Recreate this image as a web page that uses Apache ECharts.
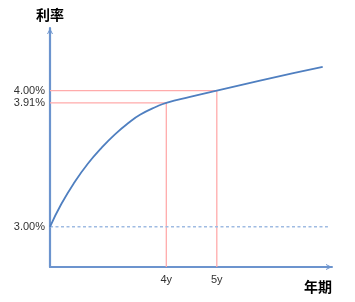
<!DOCTYPE html>
<html>
<head>
<meta charset="utf-8">
<script src="https://cdn.jsdelivr.net/npm/echarts@6/dist/echarts.min.js"></script>
<style>
html,body{margin:0;padding:0;background:#fff;}
#chart{width:355px;height:302px;}
</style>
</head>
<body>
<div id="chart"></div>
<script>
// Yield curve (years, rate %)
var curveYears = [1.697, 1.921, 2.186, 2.449, 2.713, 2.978, 3.242, 3.479, 3.81, 4, 4.47, 5, 5.855, 6.515, 7.097];
var curveRates = [3.00, 3.167, 3.329, 3.465, 3.578, 3.677, 3.760, 3.822, 3.883, 3.91, 3.954, 4.00, 4.072, 4.127, 4.173];
// Highlighted maturities and their rates
var markYears = [4, 5];
var markRates = [3.91, 4.00];
// Base rate (dashed)
var baseRate = 3.00;
// Tick labels
var xTickValues = [4, 5];
var xTickLabels = ['4y', '5y'];
var yTickValues = [3.00, 3.91, 4.00];
var yTickLabels = ['3.00%', '3.91%', '4.00%'];

var X_MIN = 1.697, X_MAX = 7.281, Y_MIN = 2.705, Y_MAX = 4.459;
var axisBlue = '#6C94CE';
var chevron = 'path://M0,10 L5,0 L10,10 L8.3,10 L5,3.4 L1.7,10 Z';

var series = [];
// red guide lines
markYears.forEach(function (yr, i) {
  series.push({
    type: 'line', silent: true, symbol: 'none', z: 2,
    lineStyle: { color: '#FFABAB', width: 1.3 },
    data: [[X_MIN, markRates[i]], [yr, markRates[i]], [yr, Y_MIN]]
  });
});
// dashed base line
series.push({
  type: 'line', silent: true, symbol: 'none', z: 2,
  lineStyle: { color: '#9FBBE2', width: 1.6, type: [3, 2.5] },
  data: [[X_MIN, baseRate], [7.2, baseRate]]
});
// curve
series.push({
  type: 'line', silent: true, symbol: 'none', smooth: 0.5, z: 3,
  lineStyle: { color: '#4F7FC0', width: 1.8 },
  data: curveYears.map(function (x, i) { return [x, curveRates[i]]; })
});

var chart = echarts.init(document.getElementById('chart'), null, { renderer: 'canvas' });
chart.setOption({
  animation: false,
  backgroundColor: '#ffffff',
  grid: { left: 50, right: 23, top: 28, bottom: 35, containLabel: false },
  xAxis: {
    type: 'value', min: X_MIN, max: X_MAX,
    name: '年期', nameLocation: 'end', nameGap: 0,
    nameTextStyle: { fontFamily: 'Noto Sans CJK SC', fontSize: 14, fontWeight: 'bold', color: '#000',
      align: 'right', verticalAlign: 'top', padding: [13, 0, 0, 0] },
    axisLine: { show: true, onZero: false, symbol: ['none', chevron], symbolSize: [8, 6], symbolOffset: [0, -3],
      lineStyle: { color: axisBlue, width: 2 } },
    axisTick: { show: false },
    splitLine: { show: false },
    axisLabel: {
      customValues: xTickValues,
      formatter: function (v) { var i = xTickValues.indexOf(v); return i >= 0 ? xTickLabels[i] : ''; },
      fontFamily: 'Liberation Sans', fontSize: 11, color: '#333', margin: 7
    }
  },
  yAxis: {
    type: 'value', min: Y_MIN, max: Y_MAX,
    name: '利率', nameLocation: 'end', nameGap: 6,
    nameTextStyle: { fontFamily: 'Noto Sans CJK SC', fontSize: 14, fontWeight: 'bold', color: '#000', align: 'center' },
    axisLine: { show: true, onZero: false, symbol: ['none', chevron], symbolSize: [8, 6], symbolOffset: [0, -3],
      lineStyle: { color: axisBlue, width: 2.2 } },
    axisTick: { show: false },
    splitLine: { show: false },
    axisLabel: {
      customValues: yTickValues,
      formatter: function (v) {
        for (var i = 0; i < yTickValues.length; i++) { if (Math.abs(yTickValues[i] - v) < 1e-6) return yTickLabels[i]; }
        return '';
      },
      fontFamily: 'Liberation Sans', fontSize: 11, color: '#333', margin: 5
    }
  },
  series: series
});
</script>
</body>
</html>
